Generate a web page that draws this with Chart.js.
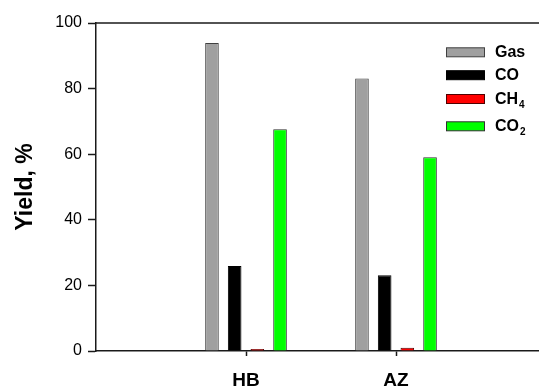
<!DOCTYPE html>
<html>
<head>
<meta charset="utf-8">
<script src="https://cdn.jsdelivr.net/npm/chart.js@4.4.1/dist/chart.umd.min.js"></script>
<style>
  html, body { margin: 0; padding: 0; background: #fff; overflow: hidden; }
  canvas { display: block; }
</style>
</head>
<body>
<canvas id="chart" width="539" height="388"></canvas>
<script>
// samples on the x axis and where they sit on it
const samples = ["HB", "AZ"];
const samplePos = [1, 2];

// yields, %
const seriesNames = ["Gas", "CO", "CH4", "CO2"];
const gasYield = [93.9, 83.1];
const coYield = [25.9, 23.1];
const ch4Yield = [0.6, 1.0];
const co2Yield = [67.6, 59.1];

const yTicks = [0, 20, 40, 60, 80, 100];

const fills = ["#a0a0a0", "#000000", "#ff0000", "#00ff00"];
const edges = ["#404040", "#000000", "#500000", "#303030"];
const font = "'Liberation Sans', Arial, sans-serif";

const allYields = [gasYield, coYield, ch4Yield, co2Yield];

// legend drawn inside the plot, with trailing digits as subscripts
const legendRows = [52.3, 75.2, 99, 126.3];
const insideLegend = {
  id: "insideLegend",
  afterDraw(chart) {
    const ctx = chart.ctx;
    ctx.save();
    chart.data.datasets.forEach((ds, i) => {
      const y = legendRows[i];
      ctx.fillStyle = ds.backgroundColor;
      ctx.strokeStyle = ds.borderColor;
      ctx.lineWidth = 1;
      ctx.fillRect(446.5, y - 4.5, 38, 9);
      ctx.strokeRect(446.5, y - 4.5, 38, 9);

      const m = ds.label.match(/^(\D+)(\d*)$/);
      ctx.fillStyle = "#000";
      ctx.textBaseline = "middle";
      ctx.font = "bold 16px " + font;
      ctx.fillText(m[1], 495, y + 0.5);
      if (m[2]) {
        const w = ctx.measureText(m[1]).width;
        ctx.font = "bold 10px " + font;
        ctx.fillText(m[2], 495 + w + 1, y + 6);
      }
    });

    // frame line along the top
    const a = chart.chartArea;
    ctx.strokeStyle = "#1a1a1a";
    ctx.lineWidth = 1.5;
    ctx.beginPath();
    ctx.moveTo(a.left, a.top);
    ctx.lineTo(a.right, a.top);
    ctx.stroke();
    ctx.restore();
  }
};

new Chart(document.getElementById("chart"), {
  type: "bar",
  data: {
    datasets: seriesNames.map((name, i) => ({
      label: name,
      data: samplePos.map((x, j) => ({ x: x, y: allYields[i][j] })),
      backgroundColor: fills[i],
      borderColor: edges[i],
      borderWidth: 1,
      borderSkipped: "start",
      categoryPercentage: 0.605,
      barPercentage: 0.6
    }))
  },
  options: {
    responsive: false,
    animation: false,
    layout: { padding: { top: 23, right: 0, bottom: 0, left: 0 } },
    plugins: {
      legend: { display: false },
      tooltip: { enabled: false }
    },
    scales: {
      x: {
        type: "linear",
        min: 0,
        max: 443 / 150,
        offset: false,
        afterFit: (s) => { s.height = 37; },
        afterBuildTicks: (s) => { s.ticks = samplePos.map(v => ({ value: v })); },
        grid: { drawOnChartArea: false, offset: false, tickLength: 5, tickColor: "#1a1a1a", tickWidth: 1.5 },
        border: { color: "#1a1a1a", width: 1.5 },
        ticks: {
          padding: 13,
          color: "#000",
          font: { family: font, size: 19, weight: "bold" },
          callback: (v) => samples[samplePos.indexOf(v)]
        }
      },
      y: {
        min: 0,
        max: 100,
        afterFit: (s) => { s.width = 96; },
        afterBuildTicks: (s) => { s.ticks = yTicks.map(v => ({ value: v })); },
        grid: { drawOnChartArea: false, tickLength: 8, tickColor: "#1a1a1a", tickWidth: 1.5 },
        border: { color: "#1a1a1a", width: 1.5 },
        ticks: {
          padding: 6,
          color: "#000",
          font: { family: font, size: 16 }
        },
        title: {
          display: true,
          text: "Yield, %",
          color: "#000",
          padding: { top: 12, bottom: 0 },
          font: { family: font, size: 23, weight: "bold" }
        }
      }
    }
  },
  plugins: [insideLegend]
});
</script>
</body>
</html>
